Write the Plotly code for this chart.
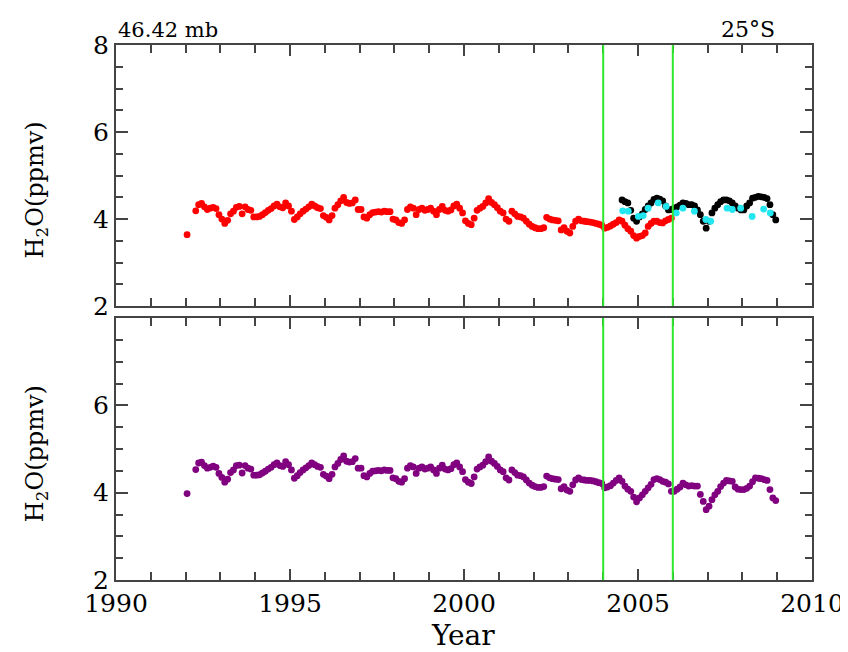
import plotly.graph_objects as go

# ---------------- data ----------------
# monthly values, index 0 = Jan 1992 ; None = no data
red_vals = [
    3.64, None, None, 4.19, 4.33, 4.36, 4.28, 4.22, 4.25, 4.27, 4.24, 4.10,   # 1992
    4.00, 3.90, 3.97, 4.12, 4.18, 4.27, 4.29, 4.12, 4.28, 4.22, 4.20, 4.05,   # 1993
    4.05, 4.06, 4.10, 4.15, 4.20, 4.24, 4.30, 4.34, 4.28, 4.26, 4.37, 4.30,   # 1994
    4.18, 3.99, 4.05, 4.12, 4.18, 4.23, 4.28, 4.34, 4.30, 4.26, 4.24, 4.08,   # 1995
    4.04, 3.98, 4.08, 4.25, 4.33, 4.42, 4.50, 4.38, 4.36, 4.37, 4.44, 4.22,   # 1996
    4.22, 4.05, 4.02, 4.10, 4.15, 4.16, 4.17, 4.16, 4.18, 4.17, 4.17, 4.00,   # 1997
    3.98, 3.92, 3.90, 3.98, 4.22, 4.28, 4.25, 4.10, 4.22, 4.25, 4.20, 4.22,   # 1998
    4.25, 4.18, 4.10, 4.22, 4.29, 4.20, 4.18, 4.21, 4.30, 4.34, 4.25, 4.14,   # 1999
    3.96, 3.90, 3.87, 4.02, 4.20, 4.25, 4.29, 4.37, 4.47, 4.38, 4.33, 4.26,   # 2000
    4.18, 4.14, 4.00, 3.95, 4.18, 4.12, 4.06, 4.05, 4.02, 3.95, 3.88, 3.83,   # 2001
    3.80, 3.78, 3.78, 3.80, 4.04, 4.00, 3.98, 3.97, 3.96, 3.75, 3.80, 3.72,   # 2002
    3.68, 3.83, 3.95, 4.00, 3.96, 3.95, 3.94, 3.93, 3.92, 3.90, 3.88, 3.86,   # 2003
    3.79, 3.81, 3.84, 3.88, 3.92, 3.98, 3.95, 3.86, 3.78, 3.72, 3.62, 3.56,   # 2004
    3.60, 3.62, 3.68, 3.83, 3.90, 3.95, 3.95, 3.92, 3.91, 3.96, 3.99, 4.02,   # 2005
]
red_start = 1992

purple_vals = [
    3.98, None, None, 4.53, 4.68, 4.70, 4.62, 4.56, 4.58, 4.61, 4.58, 4.44,   # 1992
    4.35, 4.24, 4.31, 4.46, 4.52, 4.62, 4.63, 4.45, 4.62, 4.56, 4.54, 4.40,   # 1993
    4.40, 4.41, 4.45, 4.49, 4.54, 4.58, 4.64, 4.68, 4.62, 4.60, 4.71, 4.64,   # 1994
    4.52, 4.33, 4.39, 4.46, 4.52, 4.57, 4.62, 4.68, 4.64, 4.60, 4.58, 4.42,   # 1995
    4.38, 4.32, 4.42, 4.59, 4.67, 4.76, 4.84, 4.72, 4.70, 4.71, 4.78, 4.56,   # 1996
    4.56, 4.39, 4.36, 4.44, 4.49, 4.50, 4.51, 4.50, 4.52, 4.51, 4.51, 4.34,   # 1997
    4.32, 4.26, 4.24, 4.32, 4.56, 4.62, 4.59, 4.44, 4.56, 4.59, 4.54, 4.56,   # 1998
    4.59, 4.52, 4.44, 4.56, 4.63, 4.54, 4.52, 4.55, 4.64, 4.68, 4.59, 4.48,   # 1999
    4.30, 4.24, 4.21, 4.36, 4.54, 4.59, 4.63, 4.71, 4.82, 4.72, 4.67, 4.60,   # 2000
    4.52, 4.48, 4.34, 4.29, 4.52, 4.46, 4.40, 4.39, 4.36, 4.29, 4.22, 4.17,   # 2001
    4.14, 4.12, 4.12, 4.14, 4.38, 4.34, 4.32, 4.31, 4.30, 4.09, 4.14, 4.06,   # 2002
    4.03, 4.18, 4.29, 4.34, 4.30, 4.29, 4.28, 4.28, 4.27, 4.25, 4.23, 4.21,   # 2003
    4.11, 4.13, 4.16, 4.22, 4.28, 4.34, 4.26, 4.15, 4.08, 4.03, 3.90, 3.79,   # 2004
    3.88, 3.95, 4.03, 4.11, 4.19, 4.30, 4.32, 4.30, 4.26, 4.24, 4.20, 4.03,   # 2005
    4.03, 4.08, 4.13, 4.22, 4.18, 4.15, 4.16, 4.15, 4.15, 3.96, 3.80, 3.61,   # 2006
    3.69, 3.84, 3.95, 4.03, 4.14, 4.22, 4.28, 4.27, 4.26, 4.13, 4.08, 4.07,   # 2007
    4.07, 4.10, 4.15, 4.25, 4.34, 4.33, 4.32, 4.30, 4.28, 4.07, 3.88, 3.82,   # 2008
]
purple_start = 1992

# black series: monthly from Jul 2004
black_vals = [
    4.44, 4.40, 4.37, 4.20, 4.02, 3.95,                                       # 2004 Jul-Dec
    4.05, 4.12, 4.22, 4.30, 4.37, 4.45, 4.48, 4.46, 4.42, 4.30, 4.21, 4.22,   # 2005
    4.25, 4.28, 4.32, 4.37, 4.36, 4.33, 4.33, 4.30, 4.21, 4.10, 3.95, 3.79,   # 2006
    3.95, 4.14, 4.25, 4.33, 4.40, 4.44, 4.44, 4.42, 4.37, 4.30, 4.25, 4.21,   # 2007
    4.21, 4.30, 4.37, 4.48, 4.50, 4.52, 4.51, 4.50, 4.47, 4.33, 4.10, 3.98,   # 2008
]
black_start = 2004.5

cyan_years = [2004.56, 2004.72, 2005.01, 2005.15, 2005.29, 2005.58, 2005.81, 2006.10,
              2006.29, 2006.62, 2006.95, 2007.09, 2007.56, 2007.71, 2007.95, 2008.28,
              2008.61, 2008.80]
cyan_vals = [4.19, 4.18, 4.06, 4.08, 4.25, 4.37, 4.29, 4.14,
             4.25, 4.18, 3.99, 3.95, 4.25, 4.22, 4.25, 4.06,
             4.23, 4.14]

event_years = [2004.0, 2006.0]
x_ticks = [1990, 1995, 2000, 2005, 2010]
y_ticks_top = [2, 4, 6, 8]
y_ticks_bottom = [2, 4, 6]


def monthly_years(start, n):
    return [start + (i + 0.5) / 12 for i in range(n)]


red_years = monthly_years(red_start, len(red_vals))
purple_years = monthly_years(purple_start, len(purple_vals))
black_years = monthly_years(black_start, len(black_vals))

FONT = "DejaVu Serif"
MS = 6.8
FRAME = "#444444"

fig = go.Figure()
fig.add_trace(go.Scatter(x=red_years, y=red_vals, mode="markers",
                         marker=dict(color="#ff0000", size=MS), xaxis="x", yaxis="y"))
fig.add_trace(go.Scatter(x=black_years, y=black_vals, mode="markers",
                         marker=dict(color="#000000", size=MS), xaxis="x", yaxis="y"))
fig.add_trace(go.Scatter(x=cyan_years, y=cyan_vals, mode="markers",
                         marker=dict(color="#22e6f0", size=MS), xaxis="x", yaxis="y"))
fig.add_trace(go.Scatter(x=purple_years, y=purple_vals, mode="markers",
                         marker=dict(color="#800080", size=MS), xaxis="x2", yaxis="y2"))

for xr, yr in (("x", "y"), ("x2", "y2")):
    for ey in event_years:
        fig.add_shape(type="line", xref=xr, yref=f"{yr} domain", x0=ey, x1=ey, y0=0, y1=1,
                      line=dict(color="#2ee82e", width=2), layer="above")

axis_common = dict(showline=True, linecolor=FRAME, linewidth=2.2, mirror="ticks",
                   ticks="inside", tickcolor=FRAME, tickwidth=1.8,
                   showgrid=False, zeroline=False,
                   tickfont=dict(family=FONT, size=25, color="black"))

xminor = dict(dtick=1, ticks="inside", ticklen=8, tickcolor=FRAME, tickwidth=1.8, showgrid=False)
yminor = dict(dtick=0.5, ticks="inside", ticklen=7, tickcolor=FRAME, tickwidth=1.8, showgrid=False)

fig.update_layout(
    width=848, height=652,
    margin=dict(l=108, r=35, t=37, b=80),
    paper_bgcolor="white", plot_bgcolor="white",
    showlegend=False,
    xaxis=dict(axis_common, range=[1990, 2010], domain=[0, 1], anchor="y",
               tickvals=x_ticks, showticklabels=False, ticklen=11, minor=xminor),
    yaxis=dict(axis_common, range=[2, 8], domain=[0.512, 1], anchor="x",
               tickvals=y_ticks_top, ticklen=12, minor=yminor),
    xaxis2=dict(axis_common, range=[1990, 2010], domain=[0, 1], anchor="y2",
                tickvals=x_ticks, ticklen=11, minor=xminor),
    yaxis2=dict(axis_common, range=[2, 8], domain=[0, 0.4897], anchor="x2",
                tickvals=y_ticks_bottom, ticklen=12, minor=yminor),
)

ann_font = dict(family=FONT, color="black")
fig.add_annotation(text="46.42 mb", xref="paper", yref="paper", x=0.0, y=1.0,
                   xanchor="left", yanchor="bottom", yshift=1, showarrow=False,
                   font=dict(ann_font, size=21))
fig.add_annotation(text="25°S", xref="paper", yref="paper", x=0.95, y=1.0,
                   xanchor="right", yanchor="bottom", yshift=1, showarrow=False,
                   font=dict(ann_font, size=22))
fig.add_annotation(text="H<sub>2</sub>O(ppmv)", xref="paper", yref="paper", x=-0.115, y=0.73,
                   xanchor="center", yanchor="middle", textangle=-90, showarrow=False,
                   font=dict(ann_font, size=24))
fig.add_annotation(text="H<sub>2</sub>O(ppmv)", xref="paper", yref="paper", x=-0.115, y=0.237,
                   xanchor="center", yanchor="middle", textangle=-90, showarrow=False,
                   font=dict(ann_font, size=24))
fig.add_annotation(text="Year", xref="paper", yref="paper", x=0.499, y=0, yshift=-55,
                   xanchor="center", yanchor="middle", showarrow=False,
                   font=dict(ann_font, size=28))

fig.write_html("out.html")
